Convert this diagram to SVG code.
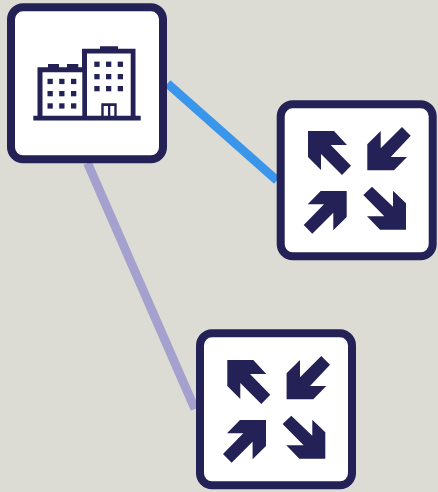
<svg xmlns="http://www.w3.org/2000/svg" xmlns:xlink="http://www.w3.org/1999/xlink" width="438" height="492" viewBox="0 0 438 492">
<style>
.box{fill:#fff;stroke:#232155;stroke-width:8}
.ink{fill:#232155}
.link{fill:none;stroke-width:9}
</style>
<defs>
<g id="collapse" class="ink">
<path d="M31.3 30.7H57.3L70.3 44.700H54L74.3 65.4L65.3 74.700L44.3 53.700V69.700L31.3 56.700Z"/>
<path d="M90.6 70V44L104 30.7V48L125.3 26.7L134 35.4L114 56.7H130.3L117.3 70Z"/>
<path d="M70 90.7V116.7L56.6 130V112.400L35.6 133.4L27 124.7L47.3 104H31L44 90.7Z"/>
<path d="M129.3 129.4H103.3L90.3 116H107.600L86.6 94.7L95.3 86.4L116.3 106.4V90.4L129.3 103Z"/>
</g>
</defs>
<rect width="438" height="492" fill="#dcdcd5"/>
<g id="connectors">
<line class="link" x1="167.500" y1="83.500" x2="277" y2="180.500" stroke="#3a96ea"/>
<line class="link" x1="87.500" y1="163" x2="195" y2="409" stroke="#a5a1ce"/>
</g>
<g id="node-building">
<rect class="box" x="11" y="7.300" width="152" height="152" rx="12"/>
<path class="ink" fill-rule="evenodd" d="M33.300 115.800H37.500V67.300H48V64H59V67.300H67V64H78.300V67.300H82V48.700H100V46.300H118V48.700H135.500V115.800H140.700V120.500H33.300Z M42.500 72.200V115.800H82.300V72.200Z M87 53.500V115.800H101.300V103.300H116.700V115.800H130.700V53.500Z M103.700 106V115.800H108V106Z M110.300 106V115.800H114.300V106Z"/>
<g class="ink">
<rect x="47.500" y="78.800" width="5.300" height="5.300"/><rect x="59.200" y="78.800" width="5.300" height="5.300"/><rect x="71" y="78.800" width="5.300" height="5.300"/>
<rect x="47.500" y="91" width="5.300" height="5.300"/><rect x="59.200" y="91" width="5.300" height="5.300"/><rect x="71" y="91" width="5.300" height="5.300"/>
<rect x="47.500" y="103.300" width="5.300" height="5.300"/><rect x="59.200" y="103.300" width="5.300" height="5.300"/><rect x="71" y="103.300" width="5.300" height="5.300"/>
<rect x="94.300" y="61.600" width="5.300" height="5.300"/><rect x="106" y="61.600" width="5.300" height="5.300"/><rect x="117.700" y="61.600" width="5.300" height="5.300"/>
<rect x="94.300" y="74" width="5.300" height="5.300"/><rect x="106" y="74" width="5.300" height="5.300"/><rect x="117.700" y="74" width="5.300" height="5.300"/>
<rect x="94.300" y="86" width="5.300" height="5.300"/><rect x="106" y="86" width="5.300" height="5.300"/><rect x="117.700" y="86" width="5.300" height="5.300"/>
</g>
</g>
<g id="node-collapse-right">
<rect class="box" x="280.700" y="104.300" width="152" height="152" rx="12"/>
<use href="#collapse" xlink:href="#collapse" x="276.700" y="100.300"/>
</g>
<g id="node-collapse-bottom">
<rect class="box" x="200" y="333.300" width="152" height="152" rx="12"/>
<use href="#collapse" xlink:href="#collapse" x="196" y="329.300"/>
</g>
</svg>
